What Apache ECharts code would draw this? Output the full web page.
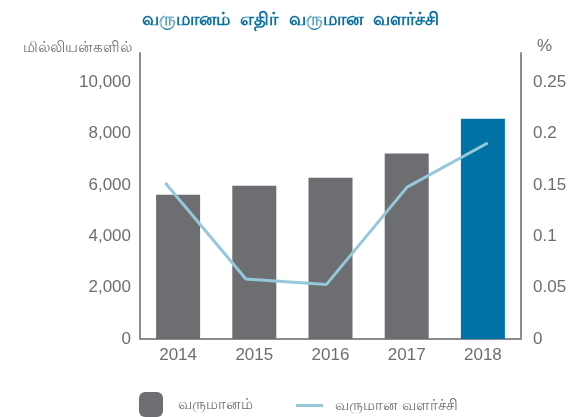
<!DOCTYPE html>
<html>
<head>
<meta charset="utf-8">
<script src="https://cdn.jsdelivr.net/npm/echarts@6/dist/echarts.min.js"></script>
<style>
  html, body { margin: 0; padding: 0; background: #fff; }
  #main { width: 581px; height: 417px; }
</style>
</head>
<body>
<div id="main"></div>
<script>
var years = ['2014', '2015', '2016', '2017', '2018'];
var revenue = [5620, 5970, 6290, 7230, 8590];
var growth = [0.152, 0.0585, 0.0532, 0.148, 0.191];
var leftTicks = [0, 2000, 4000, 6000, 8000, 10000];
var rightTicks = [0, 0.05, 0.1, 0.15, 0.2, 0.25];

var chartDom = document.getElementById('main');
var myChart = echarts.init(chartDom);
var option;

var grey = '#6d6e71';
var axisGrey = '#8c8c90';
var labelGrey = '#6d6e71';
var leftMax = 11150;
var rightMax = 0.27875;

function onTick(list, v) {
    for (var i = 0; i < list.length; i++) {
        if (Math.abs(list[i] - v) < 1e-6) return true;
    }
    return false;
}

option = {
    animation: false,
    title: {
        text: 'வருமானம்  எதிர்  வருமான  வளர்ச்சி',
        left: 'center',
        top: 6,
        textStyle: { color: '#0a72a3', fontSize: 18, fontWeight: 'bold' }
    },
    legend: [{
        data: ['வருமானம்'],
        left: 139,
        top: 392,
        padding: 0,
        itemWidth: 24,
        itemHeight: 25,
        textStyle: { color: labelGrey, fontSize: 15, padding: [0, 0, 0, 10] }
    }, {
        data: ['வருமான வளர்ச்சி'],
        left: 296,
        top: 398,
        padding: 0,
        icon: 'rect',
        itemWidth: 27,
        itemHeight: 3,
        textStyle: { color: labelGrey, fontSize: 15, padding: [0, 0, 0, 7] }
    }],
    grid: [{
        left: 140,
        right: 60,
        top: 53,
        bottom: 78
    }, {
        left: 125,
        right: 53,
        top: 53,
        bottom: 78
    }],
    xAxis: [{
        type: 'category',
        gridIndex: 0,
        data: years,
        axisLine: { lineStyle: { color: axisGrey, width: 2 } },
        axisTick: { show: false },
        axisLabel: { color: labelGrey, fontSize: 17, margin: 8 }
    }, {
        type: 'category',
        gridIndex: 1,
        data: years,
        show: false
    }],
    yAxis: [{
        type: 'value',
        gridIndex: 0,
        min: 0,
        max: leftMax,
        interval: 2000,
        name: 'மில்லியன்களில்',
        nameGap: -2,
        nameTextStyle: { color: labelGrey, fontSize: 15, align: 'right', padding: [0, 8, 0, 0] },
        axisLine: { show: true, lineStyle: { color: axisGrey, width: 2 } },
        axisTick: { show: false },
        splitLine: { show: false },
        axisLabel: {
            color: labelGrey,
            fontSize: 17,
            margin: 9,
            formatter: function (v) {
                return onTick(leftTicks, v) ? v.toLocaleString('en-US') : '';
            }
        }
    }, {
        type: 'value',
        gridIndex: 0,
        position: 'right',
        min: 0,
        max: rightMax,
        interval: 0.05,
        name: '%',
        nameGap: -2,
        nameTextStyle: { color: labelGrey, fontSize: 17, align: 'left', padding: [0, 0, 0, 16] },
        axisLine: { show: true, lineStyle: { color: axisGrey, width: 2 } },
        axisTick: { show: false },
        splitLine: { show: false },
        axisLabel: {
            color: labelGrey,
            fontSize: 17,
            margin: 12,
            formatter: function (v) {
                return onTick(rightTicks, v) ? String(Math.round(v * 100) / 100) : '';
            }
        }
    }, {
        type: 'value',
        gridIndex: 1,
        min: 0,
        max: rightMax,
        show: false,
        splitLine: { show: false }
    }],
    series: [{
        name: 'வருமானம்',
        type: 'bar',
        xAxisIndex: 0,
        yAxisIndex: 0,
        barWidth: 44,
        itemStyle: { color: grey },
        data: revenue.map(function (v, i) {
            return i === revenue.length - 1 ? { value: v, itemStyle: { color: '#0072a3' } } : v;
        })
    }, {
        name: 'வருமான வளர்ச்சி',
        type: 'line',
        xAxisIndex: 1,
        yAxisIndex: 2,
        symbol: 'none',
        lineStyle: { color: '#94c8da', width: 3 },
        itemStyle: { color: '#94c8da' },
        data: growth
    }]
};

option && myChart.setOption(option);
</script>
</body>
</html>
